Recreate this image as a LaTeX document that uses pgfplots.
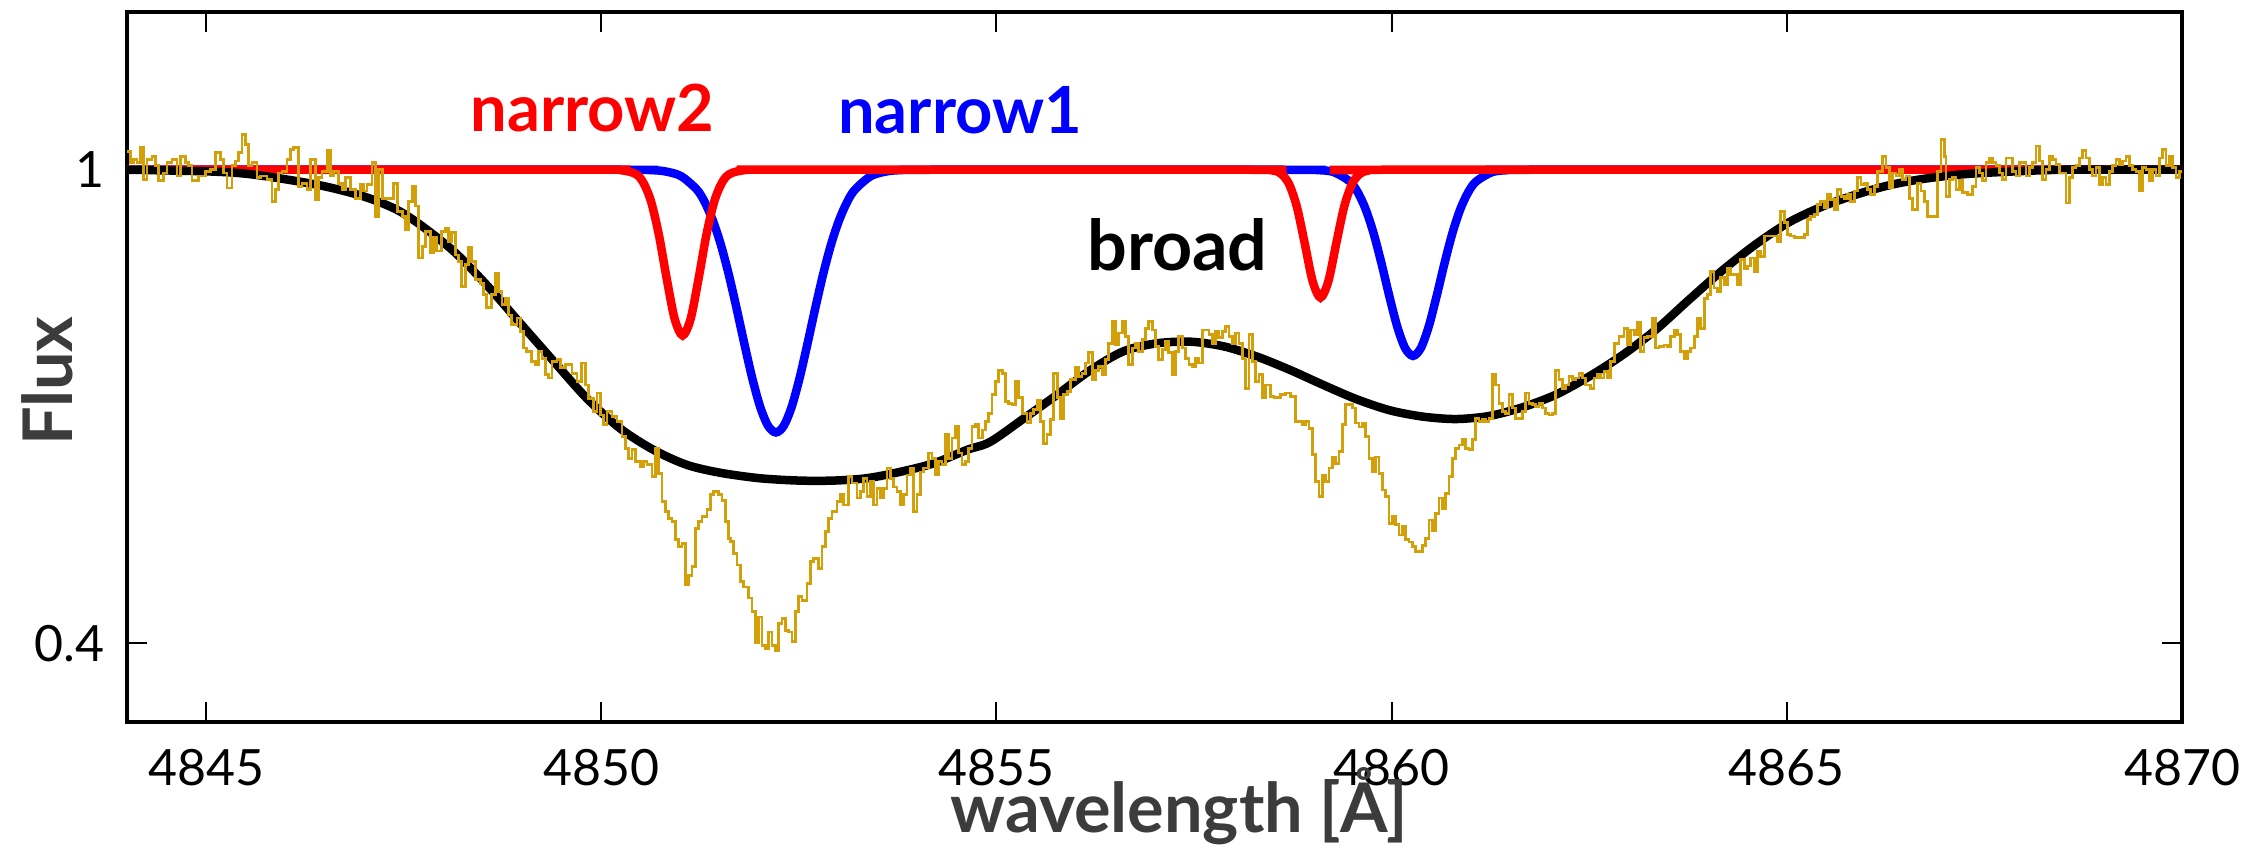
\documentclass[border=0pt]{standalone}
\usepackage{pgfplots}
\pgfplotsset{compat=1.18}
\usepackage{fontspec}
\setmainfont{Lato}
\definecolor{spec}{RGB}{212,160,10}
\definecolor{labgray}{RGB}{60,60,60}

\begin{document}
\begin{tikzpicture}
\begin{axis}[
  width=411pt, height=142pt, scale only axis,
  xmin=4844, xmax=4870, ymin=0.3, ymax=1.2,
  xtick={4845,4850,4855,4860,4865,4870},
  xticklabels={4845,4850,4855,4860,4865,4870},
  ytick={0.4,1}, yticklabels={0.4,1},
  tick align=inside, major tick length=4pt,
  tick style={line width=0.4pt, black},
  axis line style={line width=0.8pt},
  ticklabel style={font=\fontsize{10}{12}\selectfont},
  xticklabel style={yshift=-2pt},
  yticklabel style={xshift=-1pt},
  xlabel={wavelength [Å]}, ylabel={Flux},
  label style={font=\bfseries\fontsize{13.7}{16}\selectfont, text=labgray, inner sep=0pt},
  xlabel style={at={(axis description cs:0.512,-0.155)}, anchor=base},
  ylabel style={at={(axis description cs:-0.039,0.48)}, anchor=center},
]

% narrow1
\addplot[blue, line width=1.7pt, smooth] coordinates {
(4844,1) (4850.2,1) (4850.61,0.9996) (4850.81,0.9979) (4851.01,0.9919) (4851.21,0.9748)
(4851.31,0.9589) (4851.41,0.9362) (4851.51,0.9061) (4851.61,0.8686) (4851.71,0.8254)
(4851.81,0.7797) (4851.91,0.7361) (4852.01,0.6997) (4852.11,0.6755) (4852.21,0.667)
(4852.31,0.6755) (4852.41,0.6997) (4852.51,0.7361) (4852.61,0.7797) (4852.71,0.8254)
(4852.81,0.8686) (4852.91,0.9061) (4853.01,0.9362) (4853.11,0.9589) (4853.21,0.9748)
(4853.41,0.9919) (4853.61,0.9979) (4853.81,0.9996) (4854.2,1)
(4858.6,1) (4859.07,0.9995) (4859.27,0.9969) (4859.47,0.9852) (4859.57,0.9717)
(4859.67,0.9503) (4859.77,0.9200) (4859.87,0.8819) (4859.97,0.8401) (4860.07,0.8015)
(4860.17,0.7740) (4860.27,0.764) (4860.37,0.7740) (4860.47,0.8015) (4860.57,0.8401)
(4860.67,0.8819) (4860.77,0.9200) (4860.87,0.9503) (4860.97,0.9717) (4861.07,0.9852)
(4861.27,0.9969) (4861.47,0.9995) (4861.8,1) (4870,1)
};

% narrow2
\addplot[red, line width=1.7pt, smooth] coordinates {
(4844,1) (4849.9,1) (4850.23,0.9997) (4850.43,0.9949) (4850.53,0.9841) (4850.63,0.9598)
(4850.73,0.9171) (4850.83,0.8611) (4850.93,0.8106) (4851.03,0.79) (4851.13,0.8106)
(4851.23,0.8611) (4851.33,0.9171) (4851.43,0.9598) (4851.53,0.9841) (4851.63,0.9949)
(4851.83,0.9997) (4852.2,1)
(4858.2,1) (4858.5,0.9989) (4858.6,0.9949) (4858.7,0.9823) (4858.8,0.9534) (4858.9,0.9069)
(4859.0,0.8589) (4859.1,0.838) (4859.2,0.8589) (4859.3,0.9069) (4859.4,0.9534)
(4859.5,0.9823) (4859.6,0.9949) (4859.7,0.9989) (4859.9,1) (4870,1)
};

% broad
\addplot[black, line width=1.7pt, smooth] coordinates {
(4844,1) (4845,0.998) (4845.5,0.995) (4846,0.988) (4846.5,0.979) (4847,0.966)
(4847.4,0.950) (4847.7,0.931) (4848.13,0.897) (4848.55,0.854) (4848.97,0.806)
(4849.40,0.757) (4849.82,0.710) (4850.24,0.672) (4850.66,0.645) (4851.08,0.626)
(4851.5,0.616) (4852.0,0.609) (4852.5,0.606) (4852.94,0.606) (4853.36,0.609)
(4853.78,0.617) (4854.21,0.628) (4854.63,0.645) (4854.92,0.655) (4855.35,0.685)
(4855.77,0.715) (4856.19,0.746) (4856.61,0.770) (4857.03,0.780) (4857.46,0.782)
(4857.88,0.776) (4858.30,0.763) (4858.72,0.746) (4859.14,0.727) (4859.56,0.709)
(4859.98,0.695) (4860.40,0.687) (4860.82,0.684) (4861.24,0.688) (4861.66,0.699)
(4862.08,0.715) (4862.50,0.738) (4862.92,0.765) (4863.34,0.797) (4863.76,0.835)
(4864.18,0.872) (4864.60,0.905) (4865.02,0.933) (4865.44,0.953) (4865.86,0.968)
(4866.28,0.980) (4866.7,0.988) (4867.2,0.994) (4867.7,0.997) (4868.5,1) (4870,1)
};

% observed spectrum
\addplot[spec, const plot, line width=0.55pt] table {
4844.000 1.023
4844.042 1.009
4844.084 1.013
4844.127 1.009
4844.169 1.028
4844.211 0.988
4844.253 1.013
4844.316 1.017
4844.359 1.005
4844.401 0.986
4844.464 0.996
4844.506 1.009
4844.570 1.013
4844.633 0.992
4844.675 1.017
4844.738 1.009
4844.781 1.005
4844.823 0.986
4844.907 0.992
4844.992 0.998
4845.055 1.000
4845.118 1.022
4845.181 1.013
4845.224 0.996
4845.266 0.977
4845.329 1.005
4845.371 1.011
4845.414 1.022
4845.456 1.045
4845.498 1.032
4845.540 1.005
4845.582 1.009
4845.646 0.990
4845.688 0.992
4845.772 0.988
4845.835 0.960
4845.878 0.975
4845.920 0.996
4845.962 0.998
4846.025 1.013
4846.068 1.026
4846.110 1.028
4846.173 0.979
4846.215 0.983
4846.278 0.975
4846.321 1.013
4846.384 0.962
4846.426 0.990
4846.468 0.998
4846.532 1.024
4846.574 0.992
4846.616 0.998
4846.679 0.983
4846.722 0.975
4846.764 0.990
4846.827 0.975
4846.890 0.964
4846.954 0.981
4846.996 0.973
4847.038 0.981
4847.101 1.009
4847.143 0.941
4847.186 1.000
4847.228 0.964
4847.376 0.983
4847.418 0.947
4847.481 0.941
4847.523 0.924
4847.565 0.960
4847.608 0.979
4847.650 0.954
4847.692 0.888
4847.734 0.903
4847.776 0.922
4847.840 0.895
4847.882 0.914
4847.920 0.897
4847.983 0.922
4848.025 0.926
4848.068 0.909
4848.110 0.920
4848.152 0.892
4848.194 0.884
4848.236 0.852
4848.279 0.880
4848.321 0.901
4848.363 0.884
4848.405 0.861
4848.468 0.856
4848.511 0.842
4848.553 0.825
4848.616 0.842
4848.658 0.869
4848.701 0.846
4848.743 0.829
4848.785 0.837
4848.827 0.816
4848.869 0.804
4848.933 0.812
4848.975 0.795
4849.017 0.774
4849.059 0.770
4849.122 0.757
4849.165 0.753
4849.207 0.770
4849.249 0.761
4849.291 0.740
4849.333 0.736
4849.376 0.757
4849.439 0.759
4849.481 0.749
4849.544 0.753
4849.629 0.742
4849.692 0.732
4849.755 0.755
4849.798 0.727
4849.840 0.710
4849.903 0.694
4849.945 0.717
4849.988 0.689
4850.030 0.677
4850.072 0.694
4850.135 0.687
4850.198 0.681
4850.262 0.662
4850.304 0.647
4850.346 0.634
4850.388 0.645
4850.431 0.630
4850.494 0.624
4850.536 0.630
4850.578 0.626
4850.642 0.611
4850.684 0.647
4850.726 0.615
4850.768 0.579
4850.810 0.567
4850.852 0.558
4850.895 0.554
4850.937 0.531
4850.979 0.522
4851.021 0.526
4851.063 0.474
4851.106 0.486
4851.148 0.497
4851.190 0.545
4851.232 0.554
4851.274 0.560
4851.338 0.569
4851.380 0.588
4851.422 0.592
4851.485 0.588
4851.528 0.581
4851.570 0.554
4851.612 0.533
4851.633 0.529
4851.675 0.514
4851.717 0.499
4851.759 0.478
4851.802 0.471
4851.865 0.457
4851.907 0.440
4851.949 0.400
4851.991 0.433
4852.034 0.397
4852.076 0.393
4852.118 0.414
4852.160 0.397
4852.202 0.391
4852.245 0.425
4852.287 0.431
4852.329 0.416
4852.371 0.414
4852.413 0.402
4852.456 0.440
4852.498 0.459
4852.540 0.454
4852.603 0.476
4852.645 0.503
4852.688 0.507
4852.751 0.495
4852.793 0.522
4852.835 0.541
4852.878 0.558
4852.920 0.567
4852.983 0.579
4853.025 0.588
4853.067 0.575
4853.131 0.611
4853.173 0.603
4853.236 0.584
4853.278 0.592
4853.321 0.609
4853.363 0.586
4853.405 0.605
4853.447 0.575
4853.489 0.596
4853.532 0.584
4853.574 0.596
4853.616 0.622
4853.658 0.609
4853.700 0.598
4853.743 0.592
4853.785 0.575
4853.827 0.588
4853.869 0.613
4853.911 0.622
4853.954 0.567
4853.996 0.588
4854.038 0.617
4854.080 0.622
4854.143 0.641
4854.186 0.634
4854.228 0.613
4854.270 0.630
4854.312 0.626
4854.354 0.664
4854.397 0.634
4854.439 0.660
4854.481 0.675
4854.523 0.641
4854.565 0.626
4854.608 0.630
4854.650 0.647
4854.692 0.675
4854.734 0.677
4854.776 0.660
4854.819 0.670
4854.861 0.681
4854.903 0.691
4854.945 0.715
4854.987 0.732
4855.030 0.746
4855.072 0.742
4855.114 0.706
4855.156 0.704
4855.198 0.702
4855.240 0.732
4855.283 0.711
4855.325 0.691
4855.388 0.679
4855.430 0.691
4855.473 0.696
4855.515 0.708
4855.557 0.681
4855.599 0.653
4855.641 0.664
4855.684 0.683
4855.726 0.742
4855.768 0.711
4855.810 0.685
4855.852 0.715
4855.895 0.719
4855.937 0.734
4856.000 0.749
4856.042 0.738
4856.084 0.742
4856.127 0.755
4856.169 0.768
4856.211 0.734
4856.253 0.746
4856.295 0.751
4856.338 0.740
4856.380 0.759
4856.422 0.780
4856.464 0.808
4856.506 0.778
4856.549 0.793
4856.591 0.808
4856.633 0.789
4856.675 0.753
4856.717 0.774
4856.760 0.780
4856.802 0.770
4856.844 0.785
4856.886 0.799
4856.928 0.808
4856.971 0.797
4857.013 0.776
4857.055 0.759
4857.097 0.772
4857.139 0.782
4857.181 0.768
4857.224 0.740
4857.266 0.770
4857.308 0.789
4857.350 0.774
4857.392 0.761
4857.435 0.753
4857.477 0.751
4857.519 0.761
4857.561 0.755
4857.603 0.797
4857.688 0.791
4857.730 0.780
4857.772 0.795
4857.814 0.787
4857.857 0.795
4857.899 0.801
4857.941 0.789
4857.983 0.780
4858.025 0.793
4858.068 0.780
4858.110 0.761
4858.152 0.723
4858.194 0.791
4858.236 0.757
4858.279 0.732
4858.321 0.740
4858.363 0.711
4858.405 0.727
4858.468 0.713
4858.511 0.711
4858.595 0.715
4858.658 0.717
4858.722 0.713
4858.785 0.681
4858.869 0.677
4858.911 0.681
4858.954 0.672
4858.996 0.639
4859.038 0.605
4859.080 0.586
4859.122 0.613
4859.165 0.605
4859.207 0.622
4859.249 0.636
4859.291 0.628
4859.333 0.643
4859.376 0.677
4859.418 0.702
4859.502 0.698
4859.544 0.679
4859.587 0.674
4859.629 0.679
4859.671 0.662
4859.713 0.634
4859.755 0.617
4859.798 0.636
4859.840 0.615
4859.882 0.594
4859.924 0.586
4859.966 0.552
4860.008 0.560
4860.051 0.550
4860.093 0.537
4860.135 0.548
4860.177 0.531
4860.219 0.528
4860.262 0.522
4860.304 0.516
4860.388 0.524
4860.430 0.533
4860.473 0.556
4860.515 0.543
4860.557 0.564
4860.599 0.584
4860.641 0.571
4860.684 0.590
4860.726 0.611
4860.768 0.634
4860.810 0.647
4860.852 0.651
4860.895 0.658
4860.937 0.647
4860.979 0.645
4861.021 0.658
4861.063 0.685
4861.106 0.681
4861.148 0.683
4861.190 0.681
4861.232 0.685
4861.274 0.740
4861.316 0.727
4861.359 0.704
4861.401 0.694
4861.443 0.691
4861.485 0.715
4861.527 0.698
4861.570 0.685
4861.654 0.694
4861.696 0.717
4861.738 0.704
4861.781 0.702
4861.823 0.700
4861.865 0.704
4861.907 0.698
4861.949 0.691
4861.992 0.689
4862.034 0.691
4862.076 0.746
4862.118 0.734
4862.160 0.723
4862.203 0.727
4862.245 0.738
4862.287 0.734
4862.329 0.736
4862.371 0.742
4862.414 0.736
4862.456 0.727
4862.519 0.723
4862.561 0.736
4862.604 0.740
4862.646 0.736
4862.688 0.744
4862.730 0.736
4862.772 0.757
4862.815 0.780
4862.878 0.789
4862.941 0.799
4862.983 0.778
4863.025 0.797
4863.068 0.791
4863.110 0.806
4863.152 0.770
4863.194 0.787
4863.236 0.789
4863.300 0.812
4863.342 0.774
4863.384 0.776
4863.447 0.778
4863.490 0.776
4863.532 0.789
4863.574 0.797
4863.616 0.791
4863.658 0.770
4863.701 0.761
4863.743 0.770
4863.785 0.774
4863.827 0.789
4863.869 0.812
4863.912 0.799
4863.954 0.837
4863.996 0.842
4864.038 0.871
4864.080 0.850
4864.123 0.846
4864.165 0.863
4864.207 0.854
4864.249 0.875
4864.291 0.867
4864.376 0.854
4864.418 0.886
4864.460 0.875
4864.502 0.878
4864.544 0.888
4864.587 0.871
4864.629 0.897
4864.671 0.890
4864.713 0.916
4864.882 0.909
4864.924 0.947
4864.966 0.933
4865.008 0.918
4865.051 0.916
4865.093 0.914
4865.219 0.918
4865.262 0.937
4865.304 0.941
4865.346 0.943
4865.388 0.956
4865.430 0.960
4865.473 0.952
4865.515 0.969
4865.557 0.962
4865.599 0.950
4865.641 0.975
4865.684 0.966
4865.726 0.964
4865.768 0.969
4865.810 0.960
4865.852 0.973
4865.895 0.990
4865.937 0.981
4865.979 0.983
4866.021 0.975
4866.063 0.969
4866.105 0.979
4866.148 0.998
4866.211 1.017
4866.253 1.003
4866.296 0.977
4866.338 0.996
4866.380 0.992
4866.422 1.000
4866.464 0.988
4866.507 0.992
4866.549 0.964
4866.591 0.950
4866.654 0.983
4866.697 0.973
4866.739 0.960
4866.781 0.941
4866.907 0.998
4866.950 1.038
4866.992 1.017
4867.013 0.966
4867.055 0.988
4867.097 0.990
4867.140 0.975
4867.182 0.986
4867.224 0.971
4867.287 0.969
4867.351 0.979
4867.393 1.003
4867.435 0.996
4867.477 0.986
4867.519 1.009
4867.562 1.015
4867.604 1.009
4867.646 1.005
4867.688 0.996
4867.730 0.988
4867.772 1.015
4867.857 0.998
4867.899 0.992
4867.941 1.009
4868.026 0.992
4868.068 1.003
4868.110 1.009
4868.152 1.030
4868.194 1.011
4868.237 0.988
4868.279 1.000
4868.321 1.017
4868.363 1.013
4868.405 1.007
4868.448 0.996
4868.532 0.958
4868.574 0.990
4868.616 1.003
4868.659 1.005
4868.701 1.015
4868.743 1.024
4868.785 1.015
4868.827 1.000
4868.870 0.992
4868.912 1.003
4868.954 0.981
4868.996 0.990
4869.038 0.981
4869.081 0.998
4869.123 1.005
4869.165 1.013
4869.207 1.007
4869.249 1.011
4869.292 1.017
4869.334 1.005
4869.376 1.000
4869.418 0.998
4869.460 0.973
4869.503 1.003
4869.545 1.000
4869.587 0.986
4869.629 1.000
4869.671 0.992
4869.714 1.015
4869.756 1.026
4869.798 1.005
4869.840 1.017
4869.882 1.003
4869.924 0.990
4869.966 0.998
4870.000 0.998
};

\node[font=\bfseries\fontsize{13}{15}\selectfont, text=red, anchor=base] at (axis cs:4849.89,1.049) {narrow2};
\node[font=\bfseries\fontsize{13}{15}\selectfont, text=blue, anchor=base] at (axis cs:4854.54,1.046) {narrow1};
\node[font=\bfseries\fontsize{14}{16}\selectfont, text=black, anchor=base] at (axis cs:4857.29,0.872) {broad};
\end{axis}
% margins round the axis as in the reference
\path (current axis.south west) ++(-25.4pt,-25.2pt) (current axis.north east) ++(16.8pt,2.4pt);
\end{tikzpicture}
\end{document}
